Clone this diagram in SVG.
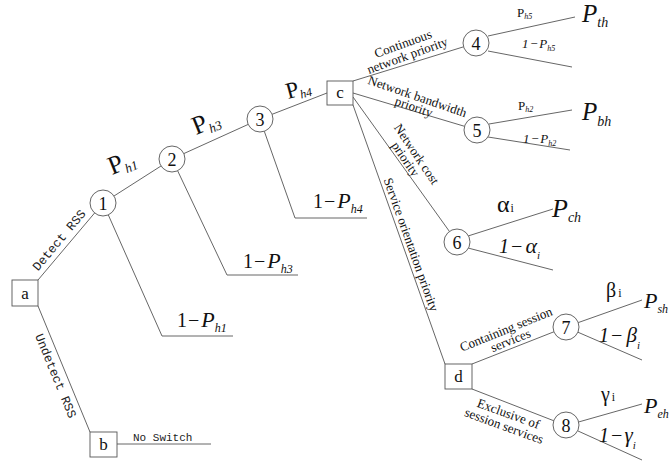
<svg xmlns="http://www.w3.org/2000/svg" width="670" height="465" viewBox="0 0 670 465">
<style>
.ln{stroke:#555;stroke-width:0.9;fill:none}
.nd{fill:#fff;stroke:#555;stroke-width:0.9}
.t{font-family:'Liberation Serif','Times New Roman','DejaVu Serif',serif;fill:#111}
.m{font-family:'Liberation Mono','Courier New','DejaVu Sans Mono',monospace;fill:#222}
.it{font-style:italic}
.nt{font-family:'Liberation Serif','Times New Roman','DejaVu Serif',serif;fill:#111;font-size:18px;text-anchor:middle}
.bt{font-family:'Liberation Serif','Times New Roman','DejaVu Serif',serif;fill:#111;font-size:17px;text-anchor:middle}
.el{font-family:'Liberation Serif','Times New Roman','DejaVu Serif',serif;fill:#111;font-size:13px;text-anchor:middle}
</style>
<rect width="670" height="465" fill="#fff"/>
<g id="connectors">
<line class="ln" x1="38" y1="280" x2="94.6" y2="213"/>
<line class="ln" x1="38" y1="306" x2="90" y2="432"/>
<line class="ln" x1="114" y1="196" x2="161" y2="166"/>
<line class="ln" x1="183.8" y1="153.6" x2="248.2" y2="124.4"/>
<line class="ln" x1="272.1" y1="114.3" x2="327" y2="93"/>
<polyline class="ln" points="108.3,214.9 162,336 233,336"/>
<polyline class="ln" points="177.6,170.7 227,275 298,275"/>
<polyline class="ln" points="264.3,131.3 295,218 367,218"/>
<line class="ln" x1="117" y1="444" x2="211" y2="444"/>
<line class="ln" x1="353" y1="81" x2="463.6" y2="46.8"/>
<line class="ln" x1="353" y1="93" x2="464.5" y2="126.3"/>
<line class="ln" x1="353" y1="97" x2="449.4" y2="231.4"/>
<line class="ln" x1="353" y1="105" x2="445" y2="364"/>
<line class="ln" x1="488" y1="36" x2="575" y2="17"/>
<line class="ln" x1="488" y1="51" x2="572" y2="67"/>
<line class="ln" x1="489" y1="124" x2="572" y2="110"/>
<line class="ln" x1="488" y1="137" x2="570" y2="150"/>
<line class="ln" x1="468" y1="236" x2="553" y2="209"/>
<line class="ln" x1="468" y1="248" x2="553" y2="270"/>
<line class="ln" x1="472" y1="364" x2="553.9" y2="331.8"/>
<line class="ln" x1="472" y1="389" x2="553.9" y2="420.8"/>
<line class="ln" x1="578.2" y1="322.6" x2="642" y2="300"/>
<line class="ln" x1="577.9" y1="332.2" x2="642" y2="360"/>
<line class="ln" x1="578.5" y1="422" x2="642" y2="404"/>
<line class="ln" x1="577.8" y1="430.9" x2="642" y2="460"/>
</g>
<g id="edge-labels">
<text class="m" font-size="12.5" text-anchor="middle" transform="translate(66,246) rotate(-50)" y="-5">Detect RSS</text>
<text class="m" font-size="12.5" text-anchor="middle" transform="translate(65,372) rotate(67.6)" y="14">Undetect RSS</text>
<text class="m" font-size="11" x="133" y="441">No Switch</text>
<text class="t" font-size="26" transform="translate(112,175) rotate(-22)">P<tspan class="it" font-size="13" dy="4">h1</tspan></text>
<text class="t" font-size="26" transform="translate(196,135) rotate(-22)">P<tspan class="it" font-size="13" dy="4">h3</tspan></text>
<text class="t" font-size="23" transform="translate(288,99) rotate(-15)">P<tspan class="it" font-size="12" dy="3">h4</tspan></text>
<text class="t" font-size="20" x="177" y="327">1<tspan dx="1">−</tspan><tspan class="it" dx="2" font-size="22">P</tspan><tspan class="it" font-size="12" dy="5">h1</tspan></text>
<text class="t" font-size="20" x="243" y="268">1<tspan dx="1">−</tspan><tspan class="it" dx="2" font-size="22">P</tspan><tspan class="it" font-size="12" dy="5">h3</tspan></text>
<text class="t" font-size="20" x="313" y="208">1<tspan dx="1">−</tspan><tspan class="it" dx="2" font-size="22">P</tspan><tspan class="it" font-size="12" dy="5">h4</tspan></text>
<g transform="translate(403,43.5) rotate(-20)">
<text class="el" y="4.5">Continuous</text>
<text class="el" y="17">network priority</text>
</g>
<g transform="translate(416,100.5) rotate(19)">
<text class="el" y="0">Network bandwidth</text>
<text class="el" y="11">priority</text>
</g>
<g transform="translate(413,156.5) rotate(56)">
<text class="el" y="0">Network cost</text>
<text class="el" x="-2" y="12">priority</text>
</g>
<text class="el" transform="translate(407,246) rotate(70.4)">Service orientation priority</text>
<g transform="translate(507.7,333.2) rotate(-22)">
<text class="el" y="0">Containing session</text>
<text class="el" y="12">services</text>
</g>
<g transform="translate(507,417.7) rotate(20)">
<text class="el" y="0">Exclusive of</text>
<text class="el" y="13">session services</text>
</g>
<text class="t" font-size="13" x="517" y="17">P<tspan class="it" font-size="8" dy="2">h5</tspan></text>
<text class="t it" font-size="13" x="522" y="48">1<tspan dx="1">−</tspan><tspan dx="1">P</tspan><tspan font-size="8" dy="3">h5</tspan></text>
<text class="t" font-size="13" x="518" y="110">P<tspan class="it" font-size="8" dy="2">h2</tspan></text>
<text class="t it" font-size="13" x="523" y="143">1<tspan dx="1">−</tspan><tspan dx="1">P</tspan><tspan font-size="8" dy="3">h2</tspan></text>
<text class="t it" font-size="25" x="582" y="22">P<tspan font-size="14" dy="5">th</tspan></text>
<text class="t it" font-size="25" x="582" y="120">P<tspan font-size="14" dy="6">bh</tspan></text>
<text class="t" font-size="24" x="497" y="212">α<tspan font-size="12" dx="1">i</tspan></text>
<text class="t it" font-size="26" x="552" y="217">P<tspan font-size="14" dy="5">ch</tspan></text>
<text class="t it" font-size="20" x="499" y="253">1<tspan dx="1">−</tspan><tspan dx="2" font-size="22">α</tspan><tspan font-size="11" dy="6">i</tspan></text>
<text class="t" font-size="20" x="606" y="297">β<tspan font-size="12" dx="2">i</tspan></text>
<text class="t it" font-size="22" x="644" y="308">P<tspan font-size="12" dy="5">sh</tspan></text>
<text class="t it" font-size="20" x="599" y="342">1<tspan dx="1">−</tspan><tspan dx="3" font-size="21">β</tspan><tspan font-size="11" dy="7">i</tspan></text>
<text class="t" font-size="20" x="601" y="401">γ<tspan font-size="12" dx="2">i</tspan></text>
<text class="t it" font-size="22" x="644" y="413">P<tspan font-size="12" dy="5">eh</tspan></text>
<text class="t it" font-size="20" x="599" y="442">1<tspan dx="1">−</tspan><tspan dx="1" font-size="21">γ</tspan><tspan font-size="11" dy="7">i</tspan></text>
</g>
<g id="node-a"><rect class="nd" x="12" y="280" width="26" height="26"/><text class="bt" x="25" y="299">a</text></g>
<g id="node-b"><rect class="nd" x="90" y="432" width="27" height="25"/><text class="bt" x="103.5" y="450">b</text></g>
<g id="node-c"><rect class="nd" x="327" y="81" width="26" height="24"/><text class="bt" x="340" y="98">c</text></g>
<g id="node-d"><rect class="nd" x="445" y="364" width="27" height="25"/><text class="bt" x="458.5" y="382">d</text></g>
<g id="node-1"><circle class="nd" cx="103" cy="203" r="13"/><text class="nt" x="103" y="209.5">1</text></g>
<g id="node-2"><circle class="nd" cx="172" cy="159" r="13"/><text class="nt" x="172" y="165.5">2</text></g>
<g id="node-3"><circle class="nd" cx="260" cy="119" r="13"/><text class="nt" x="260" y="125.5">3</text></g>
<g id="node-4"><circle class="nd" cx="476" cy="43" r="13"/><text class="nt" x="476" y="49.5">4</text></g>
<g id="node-5"><circle class="nd" cx="477" cy="130" r="13"/><text class="nt" x="477" y="136.5">5</text></g>
<g id="node-6"><circle class="nd" cx="457" cy="242" r="13"/><text class="nt" x="457" y="248.5">6</text></g>
<g id="node-7"><circle class="nd" cx="566" cy="327" r="13"/><text class="nt" x="566" y="333.5">7</text></g>
<g id="node-8"><circle class="nd" cx="566" cy="425" r="13"/><text class="nt" x="566" y="431.5">8</text></g>
</svg>
